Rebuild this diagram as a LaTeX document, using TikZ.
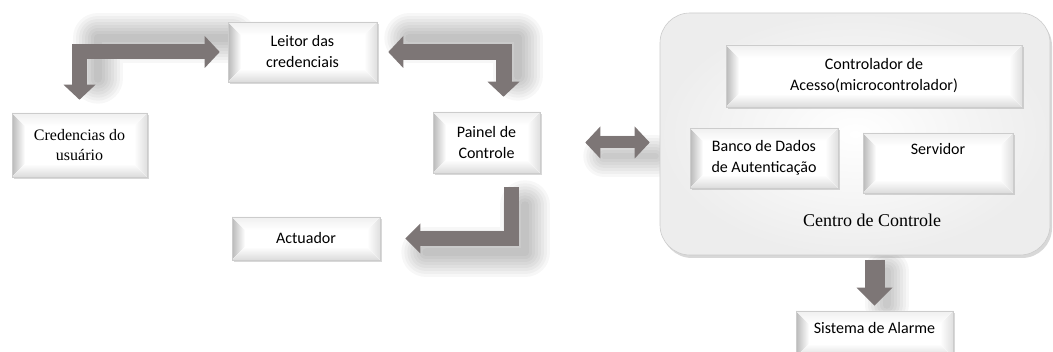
\documentclass[tikz,border=0pt]{standalone}
\usepackage{fontspec}
\setmainfont{Liberation Serif}
\newfontfamily\calfont{Carlito}
\newfontfamily\timesfont{Liberation Serif}
\usetikzlibrary{arrows.meta,calc,shadows}
\pgfdeclarelayer{bg}
\pgfsetlayers{bg,main}
\definecolor{arrowgray}{RGB}{125,118,118}
\tikzset{
  bevbox/.style={draw=gray!40, line width=0.6pt, fill=white, align=center, inner sep=2pt,
    drop shadow={shadow xshift=1.5pt, shadow yshift=-2pt, opacity=0.3},
    path picture={
      \path (path picture bounding box.north west) coordinate (pnw)
            (path picture bounding box.south east) coordinate (pse);
      \coordinate (pne) at (pnw-|pse);
      \coordinate (psw) at (pnw|-pse);
      \coordinate (inw) at ($(pnw)+(13pt,-13pt)$);
      \coordinate (ine) at ($(pne)+(-13pt,-13pt)$);
      \coordinate (ise) at ($(pse)+(-13pt,13pt)$);
      \coordinate (isw) at ($(psw)+(13pt,13pt)$);
      \fill[left color=gray!55, right color=white] (pnw) -- (inw) -- (isw) -- (psw) -- cycle;
      \fill[top color=white, bottom color=gray!28] (psw) -- (isw) -- (ise) -- (pse) -- cycle;
      \fill[left color=white, right color=gray!25] (pse) -- (ise) -- (ine) -- (pne) -- cycle;
      \fill[top color=gray!12, bottom color=white] (pne) -- (ine) -- (inw) -- (pnw) -- cycle;
    }},
  sansbox/.style={bevbox, font=\calfont\fontsize{16}{21}\selectfont},
  serifbox/.style={bevbox, font=\timesfont\fontsize{16}{20}\selectfont},
  centrobox/.style={draw=gray!40, line width=0.6pt, rounded corners=30pt, inner color=white, outer color=gray!14,
    drop shadow={shadow xshift=2pt, shadow yshift=-3pt, opacity=0.3}},
  blockarrow/.style={draw=arrowgray, line join=miter, line cap=butt},
  glow/.style={draw=black, draw opacity=0.03, line join=round, line cap=round},
  tipA/.tip={Triangle[width=32pt,length=15pt,line width=0pt]},
  tipB/.tip={Triangle[width=30pt,length=15pt,line width=0pt]},
  tipC/.tip={Triangle[width=36pt,length=18pt,line width=0pt]},
}
\begin{document}
\begin{tikzpicture}[x=1pt,y=-1pt]
\useasboundingbox (0,0) rectangle (1053,352);
\clip (0,0) rectangle (1053,352);

% boxes
\node[serifbox, minimum width=135pt, minimum height=64pt] (cred) at (79.5,145) {Credencias do\\usuário};
\node[sansbox, minimum width=149pt, minimum height=60pt] (leitor) at (302.5,52) {Leitor das\\credenciais};
\node[sansbox, minimum width=107pt, minimum height=61pt] (painel) at (486.5,142.5) {Painel de\\Controle};
\node[sansbox, minimum width=148pt, minimum height=43pt] (actuador) at (306,238.5) {Actuador};
\node[centrobox, minimum width=390pt, minimum height=242pt] (centro) at (855,134) {};
\node[sansbox, minimum width=296pt, minimum height=62pt] (ctrl) at (874,76) {Controlador de\\Acesso(microcontrolador)};
\node[sansbox, minimum width=148pt, minimum height=60pt] (banco) at (764,158) {Banco de Dados\\de Autenticação};
\node[sansbox, minimum width=150pt, minimum height=60pt, text height=12pt, text depth=28pt] (servidor) at (938,163) {Servidor};
\node[font=\timesfont\fontsize{18}{20}\selectfont] (centrolbl) at (872,220) {Centro de Controle};
\node[sansbox, minimum width=157pt, minimum height=46pt, text height=12pt, text depth=12pt] (alarme) at (874.5,334) {Sistema de Alarme};

\coordinate (p2) at ($(painel.north)+(17,0)$);
\coordinate (a4s) at ($(painel.south)+(24.5,14)$);

% soft shadows of the arrows
\begin{pgfonlayer}{bg}
\fill[white] (0,0) rectangle (1053,352);
\begin{scope}[transform canvas={xshift=18pt,yshift=14pt}]
  \foreach \w in {8,14,20,26,32,38,44,50}
    \draw[glow, line width=\w pt, shorten <=14pt, shorten >=20pt] (leitor.west) -| (cred.north);
\end{scope}
\begin{scope}[transform canvas={xshift=14pt,yshift=14pt}]
  \foreach \w in {8,14,20,26,32,38,44,50}
    \draw[glow, line width=\w pt, shorten <=18pt, shorten >=22pt] (leitor.east) -| (p2);
\end{scope}
\begin{scope}[transform canvas={xshift=12pt,yshift=-14pt}]
  \foreach \w in {6,12,18,24,30,36,42}
    \draw[glow, line width=\w pt, shorten <=52pt, shorten >=16pt] (painel.east) -- (painel.east -| centro.west);
\end{scope}
\begin{scope}[transform canvas={xshift=14pt,yshift=-14pt}]
  \foreach \w in {8,14,20,26,32,38,44,50}
    \draw[glow, line width=\w pt, shorten <=4pt, shorten >=32pt] (a4s) |- (actuador.east);
\end{scope}
\begin{scope}[transform canvas={xshift=12pt,yshift=-6pt}]
  \foreach \w in {8,14,20,26,32,38,44}
    \draw[glow, line width=\w pt, shorten <=10pt, shorten >=12pt] (alarme.north |- centro.south) -- (alarme.north);
\end{scope}
\end{pgfonlayer}

% block arrows
\draw[blockarrow, line width=15pt, tipA-tipA, shorten <=8pt, shorten >=13pt] (leitor.west) -| (cred.north);
\draw[blockarrow, line width=16pt, tipA-tipA, shorten <=11pt, shorten >=15pt] (leitor.east) -| (p2);
\draw[blockarrow, line width=12pt, tipA-tipA, shorten <=45pt, shorten >=10pt] (painel.east) -- (painel.east -| centro.west);
\draw[blockarrow, line width=15pt, -tipB, shorten >=25pt] (a4s) |- (actuador.east);
\draw[blockarrow, line width=20pt, -tipC, shorten <=5pt, shorten >=5pt] (alarme.north |- centro.south) -- (alarme.north);
\end{tikzpicture}
\end{document}
